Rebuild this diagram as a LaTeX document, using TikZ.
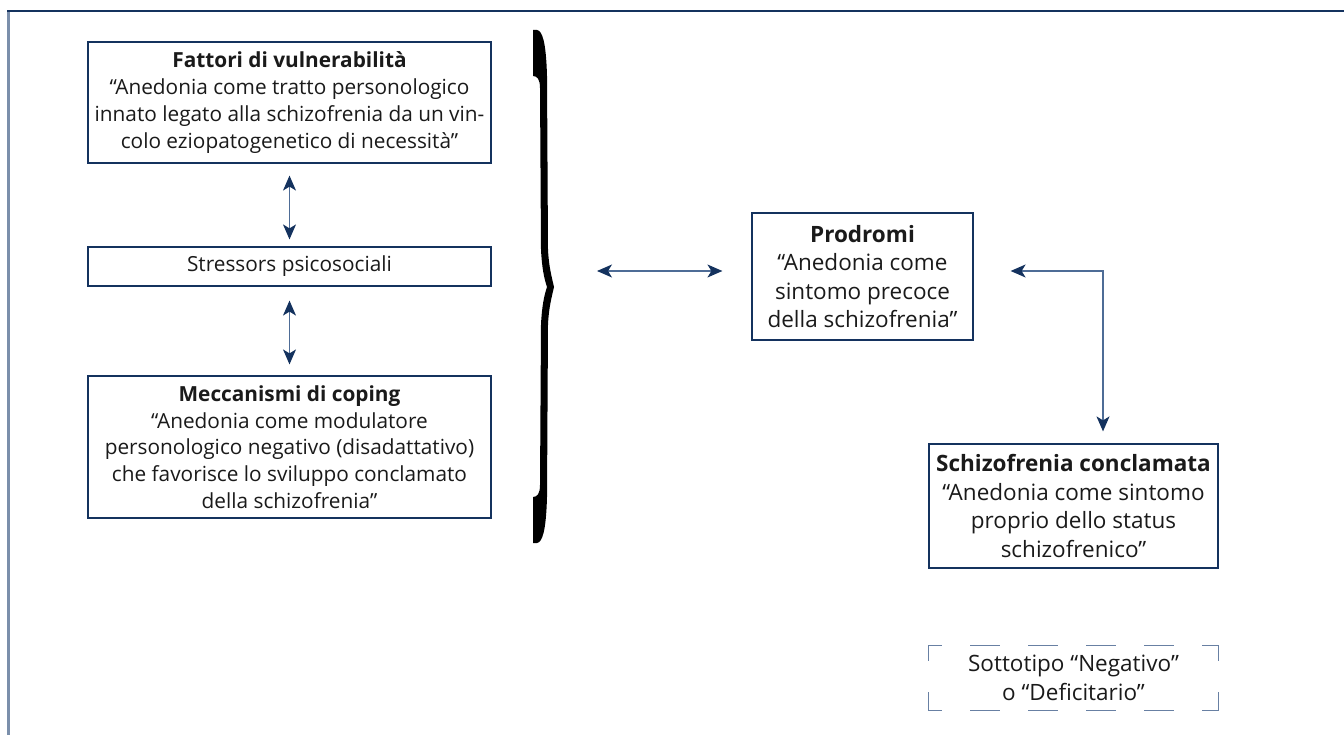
\documentclass[tikz,border=0pt]{standalone}
\usepackage{fontspec}
\setmainfont{Open Sans}
\usetikzlibrary{arrows.meta}
\definecolor{navy}{HTML}{14325E}
\definecolor{linec}{HTML}{4E6C96}
\definecolor{framel}{HTML}{7B8FAB}
\definecolor{dashc}{HTML}{6880A3}
\definecolor{txt}{HTML}{1A1A1A}
\begin{document}
\begin{tikzpicture}[x=1pt,y=-1pt,
  box/.style={draw=navy, line width=1.2pt, fill=white, inner sep=0pt, align=center, text=txt, font=\fontsize{20.8}{26.7}\selectfont},
  rbox/.style={box, font=\fontsize{22.5}{28.5}\selectfont},
  conn/.style={draw=linec, line width=1.3pt, {Stealth[length=15pt,width=13pt,inset=4pt,color=navy]}-{Stealth[length=15pt,width=13pt,inset=4pt,color=navy]}},
  dashedge/.style={draw=dashc, line width=1.3pt},
]
\useasboundingbox (0,0) rectangle (1344,735);
% frame
\coordinate (f0) at (8.5,11);
\coordinate (f1) at (1344,11);
\coordinate (f2) at (8.5,735);
\draw[framel, line width=2.6pt] (f0) -- (f2);
\draw[navy, line width=1.5pt] (7.2,11) -- (f1);

% left column
\node[box, minimum width=403pt, minimum height=121pt] (fat) at (289.5,102.5)
  {\textbf{Fattori di vulnerabilità}\\“Anedonia come tratto personologico\\innato legato alla schizofrenia da un vin-\\colo eziopatogenetico di necessità”};
\node[box, minimum width=403pt, minimum height=39pt] (str) at (289.5,266.5)
  {Stressors psicosociali};
\node[box, minimum width=403pt, minimum height=142pt] (mec) at (289.5,447)
  {\textbf{Meccanismi di coping}\\“Anedonia come modulatore\\personologico negativo (disadattativo)\\che favorisce lo sviluppo conclamato\\della schizofrenia”};

\draw[conn, shorten <=12pt, shorten >=7pt] (fat.south) -- (str.north);
\draw[conn, shorten <=14pt, shorten >=11pt] (str.south) -- (mec.north);

% brace
\fill[black] (537,30) .. controls (542,31) and (546,40) .. (547,76)
  -- (548,250) .. controls (549,268) and (552,278) .. (554,287)
  .. controls (552,296) and (549,306) .. (548,324)
  -- (547,497) .. controls (546,533) and (542,542) .. (537,543)
  -- (533,543) -- (533,497) .. controls (537,497) and (540,494) .. (540,485)
  -- (541,324) .. controls (542,306) and (544,296) .. (547,287)
  .. controls (544,278) and (542,268) .. (541,250)
  -- (540,88) .. controls (540,79) and (537,76) .. (533,76) -- (533,30) -- cycle;
\coordinate (bt) at (552,271);

% right column
\node[rbox, minimum width=221pt, minimum height=127pt] (pro) at (862.5,276.5)
  {\textbf{Prodromi}\\“Anedonia come\\sintomo precoce\\della schizofrenia”};
\node[rbox, minimum width=289pt, minimum height=124pt] (sch) at (1073.5,506)
  {\textbf{Schizofrenia conclamata}\\“Anedonia come sintomo\\proprio dello status\\schizofrenico”};
\node[rbox, draw=none, fill=none, minimum width=289pt, minimum height=64pt] (sot) at (1073.5,678)
  {Sottotipo “Negativo”\\o “Deficitario”};
\draw[dashedge, dash pattern=on 30pt off 28pt, dash phase=16pt] (sot.north west) -- (sot.north east);
\draw[dashedge, dash pattern=on 30pt off 28pt, dash phase=16pt] (sot.south west) -- (sot.south east);
\draw[dashedge, dash pattern=on 33pt off 31pt, dash phase=17pt] (sot.north west) -- (sot.south west);
\draw[dashedge, dash pattern=on 33pt off 31pt, dash phase=17pt] (sot.north east) -- (sot.south east);

\draw[conn, shorten <=45pt, shorten >=29pt] (bt) -- (bt -| pro.west);
\coordinate (c1) at (1103,271);
\draw[conn, shorten <=37pt, shorten >=12pt] (pro.east |- c1) -- (c1) -- (c1 |- sch.north);
\end{tikzpicture}
\end{document}
